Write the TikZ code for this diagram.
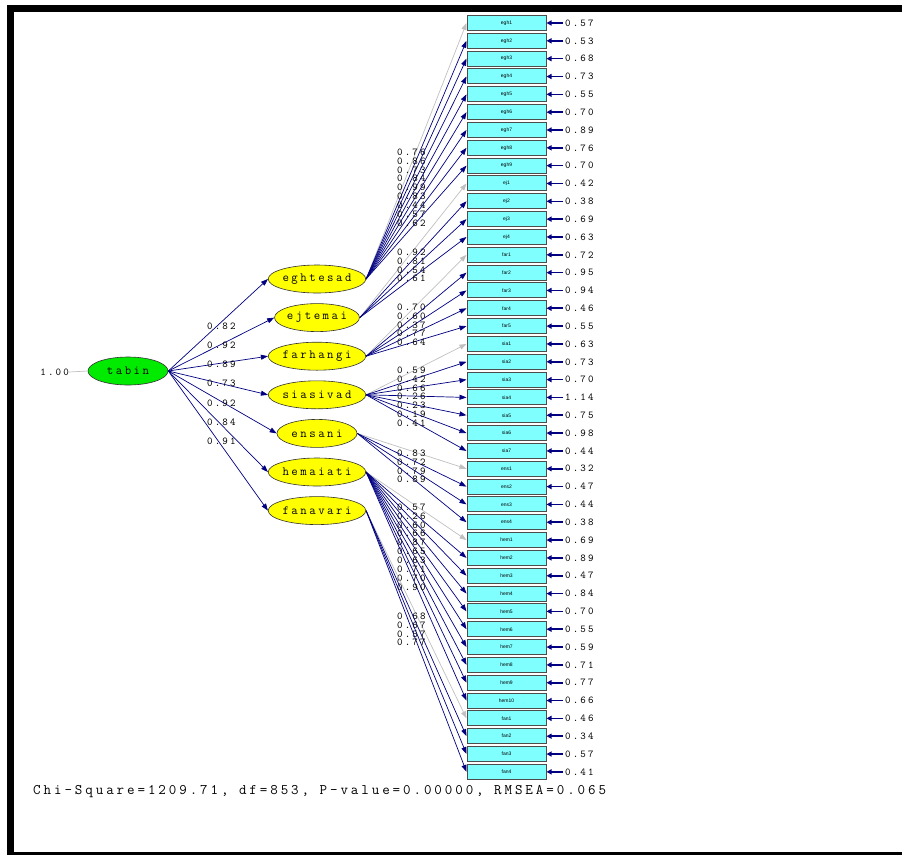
\documentclass[tikz,border=0pt]{standalone}
\usepackage{fontspec}
\usetikzlibrary{shapes.geometric,arrows.meta}
\newfontfamily\lismono[LetterSpace=20]{Latin Modern Mono}
\newfontfamily\lissans{Liberation Sans}
\definecolor{lisnavy}{RGB}{0,0,128}
\definecolor{lisgrey}{RGB}{192,192,192}
\definecolor{liscyan}{RGB}{128,255,255}
\definecolor{lisyellow}{RGB}{255,255,0}
\definecolor{lisgreen}{RGB}{0,235,0}
\tikzset{
  obs/.style={draw=black!70, line width=1pt, fill=liscyan, minimum width=79pt, minimum height=15pt, inner sep=0pt, font=\lissans\fontsize{5}{5}\selectfont},
  lat/.style={ellipse, draw=black!80, line width=0.6pt, fill=lisyellow, minimum width=80pt, minimum height=28pt, inner sep=0pt, font=\lismono\fontsize{12.5}{12.5}\selectfont},
  val/.style={inner sep=0pt, anchor=west, text=black, font=\lismono\fontsize{10.5}{10.5}\selectfont},
  lnk/.style={lisnavy, line width=0.7pt, -{Triangle[length=7pt,width=5pt]}},
  fix/.style={lisgrey, line width=0.7pt, -{Triangle[length=7pt,width=5pt]}},
  err/.style={lisnavy, line width=1.6pt, -{Triangle[length=5pt,width=5pt]}},
}
\begin{document}
\begin{tikzpicture}[x=1pt,y=-1pt]
  \useasboundingbox (0,0) rectangle (902,855);
  \fill (7,5) rectangle (902,12);
  \fill (7,5) rectangle (14,855);
  \fill (7,852) rectangle (902,855);
  \foreach \nm/\ev [count=\i] in {egh1/0.57,egh2/0.53,egh3/0.68,egh4/0.73,egh5/0.55,egh6/0.70,egh7/0.89,egh8/0.76,egh9/0.70,
      ej1/0.42,ej2/0.38,ej3/0.69,ej4/0.63,far1/0.72,far2/0.95,far3/0.94,far4/0.46,far5/0.55,
      sia1/0.63,sia2/0.73,sia3/0.70,sia4/1.14,sia5/0.75,sia6/0.98,sia7/0.44,ens1/0.32,ens2/0.47,ens3/0.44,ens4/0.38,
      hem1/0.69,hem2/0.89,hem3/0.47,hem4/0.84,hem5/0.70,hem6/0.55,hem7/0.59,hem8/0.71,hem9/0.77,hem10/0.66,
      fan1/0.46,fan2/0.34,fan3/0.57,fan4/0.41} {
    \node[obs] (o\i) at (506.5,{23+17.83*(\i-1)}) {\nm};
    \node[val] (e\i) at (565,{23+17.83*(\i-1)}) {\ev};
    \draw[err] ([xshift=-2pt]e\i.west) -- (o\i.east);
  }
  \node[lat, fill=lisgreen] (tabin) at (128,371) {tabin};
  \node[val, anchor=east] (tv) at (69,372) {1.00};
  \draw[lisgrey, line width=0.7pt] (tv.east) -- (tabin.west);
  \foreach \lv/\tl/\first/\laby/\ldgs [count=\k] in {
      eghtesad/0.82/1/152/{0.76,0.86,0.73,0.84,0.99,0.83,0.44,0.57,0.62},
      ejtemai/0.92/10/252/{0.92,0.81,0.54,0.61},
      farhangi/0.89/14/307/{0.70,0.60,0.37,0.77,0.64},
      siasivad/0.73/19/370/{0.59,0.42,0.66,0.26,0.23,0.19,0.41},
      ensani/0.92/26/453/{0.83,0.72,0.79,0.89},
      hemaiati/0.84/30/507/{0.57,0.26,0.60,0.66,0.87,0.65,0.63,0.71,0.70,0.90},
      fanavari/0.91/40/616/{0.68,0.67,0.57,0.77}} {
    \node[lat] (\lv) at (317,{279+38.6*(\k-1)}) {\lv};
    \draw[lnk] (tabin.east) -- (\lv.west);
    \node[val] (t\k) at (207,{326+19.2*(\k-1)}) {\tl};
    \foreach \ld [count=\j] in \ldgs {
      \pgfmathtruncatemacro\i{\first+\j-1}
      \ifnum\j=1 \draw[fix] (\lv.east) -- (o\i.west);
      \else \draw[lnk] (\lv.east) -- (o\i.west);
      \fi
      \node[val] (l\i) at (397,{\laby+8.9*(\j-1)}) {\ld};
    }
  }
  \node[val, font=\lismono\fontsize{14.6}{14.6}\selectfont] (fit) at (33,792) {Chi-Square=1209.71, df=853, P-value=0.00000, RMSEA=0.065};
\end{tikzpicture}
\end{document}
